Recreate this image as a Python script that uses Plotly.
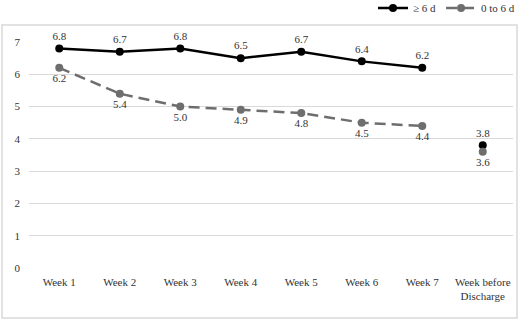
import plotly.graph_objects as go

categories = ["Week 1", "Week 2", "Week 3", "Week 4", "Week 5", "Week 6", "Week 7", "Week before<br>Discharge"]
series_ge6 = [6.8, 6.7, 6.8, 6.5, 6.7, 6.4, 6.2]
series_0to6 = [6.2, 5.4, 5.0, 4.9, 4.8, 4.5, 4.4]
discharge_ge6 = 3.8
discharge_0to6 = 3.6
y_ticks = [0, 1, 2, 3, 4, 5, 6, 7]

FONT = "Liberation Serif"
BLACK = "#000000"
GRAY = "#6e6e6e"
TXT = "#333333"

fig = go.Figure()

fig.add_trace(go.Scatter(
    x=categories[:7], y=series_ge6, mode="lines+markers+text", name="≥ 6 d",
    line=dict(color=BLACK, width=2.5), marker=dict(size=8, color=BLACK),
    text=[f"{v:.1f}" for v in series_ge6], textposition="top center",
    textfont=dict(family=FONT, size=11, color=TXT), cliponaxis=False,
))
fig.add_trace(go.Scatter(
    x=categories[:7], y=series_0to6, mode="lines+markers+text", name="0 to 6 d",
    line=dict(color=GRAY, width=2.5, dash="11px,6px"), marker=dict(size=8, color=GRAY),
    text=[f"{v:.1f}" for v in series_0to6], textposition="bottom center",
    textfont=dict(family=FONT, size=11, color=TXT), cliponaxis=False,
))
fig.add_trace(go.Scatter(
    x=[categories[7]], y=[discharge_ge6], mode="markers+text", showlegend=False,
    marker=dict(size=8, color=BLACK),
    text=[f"{discharge_ge6:.1f}"], textposition="top center",
    textfont=dict(family=FONT, size=11, color=TXT), cliponaxis=False,
))
fig.add_trace(go.Scatter(
    x=[categories[7]], y=[discharge_0to6], mode="markers+text", showlegend=False,
    marker=dict(size=8, color=GRAY),
    text=[f"{discharge_0to6:.1f}"], textposition="bottom center",
    textfont=dict(family=FONT, size=11, color=TXT), cliponaxis=False,
))

fig.update_layout(
    width=520, height=323,
    margin=dict(l=29, r=7, t=42, b=55, autoexpand=False),
    paper_bgcolor="white", plot_bgcolor="white",
    font=dict(family=FONT, size=11, color=TXT),
    xaxis=dict(type="category", categoryorder="array", categoryarray=categories,
               range=[-0.5, 7.5], showgrid=False, showline=False, ticks="",
               ticklabelstandoff=6, automargin=False,
               tickfont=dict(family=FONT, size=11, color=TXT)),
    yaxis=dict(range=[0, 7], tickvals=y_ticks, showgrid=True, gridcolor="#d9d9d9",
               gridwidth=1, zeroline=False, showline=False, ticks="", ticklabelstandoff=8,
               automargin=False,
               tickfont=dict(family=FONT, size=11, color=TXT)),
    legend=dict(orientation="h", xref="container", yref="container",
                x=1.0, xanchor="right", y=0.975, yanchor="middle",
                font=dict(family=FONT, size=11, color=TXT),
                bgcolor="rgba(0,0,0,0)", itemwidth=30, tracegroupgap=0),
    shapes=[dict(type="rect", xref="paper", yref="paper",
                 x0=(2 - 29) / 484, x1=(517 - 29) / 484,
                 y0=(268 - 318) / 226, y1=(268 - 25) / 226,
                 line=dict(color="#d9d9d9", width=1.5), fillcolor="rgba(0,0,0,0)", layer="below")],
)

fig.write_html("out.html", config={"displayModeBar": False},
               post_script="document.body.style.margin='0';document.body.style.overflow='hidden';")
